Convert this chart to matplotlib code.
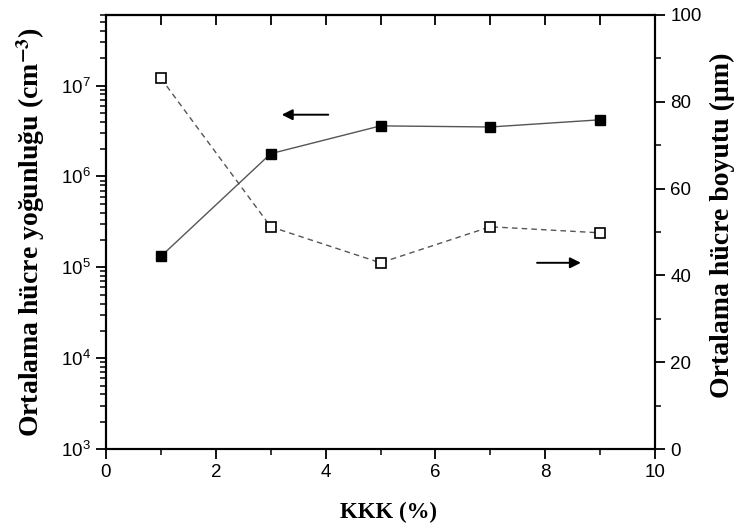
import matplotlib.pyplot as plt
from matplotlib.ticker import MultipleLocator, LogLocator, NullFormatter

plt.rcParams['font.family'] = ['Liberation Sans', 'DejaVu Sans']
plt.rcParams['mathtext.fontset'] = 'stix'

# data
kkk = [1, 3, 5, 7, 9]
density = [1.32e5, 1.78e6, 3.6e6, 3.5e6, 4.2e6]   # cm^-3, left axis (log)
cell_size = [85.4, 51.2, 42.9, 51.2, 49.8]        # um, right axis

fig = plt.figure(figsize=(7.36, 5.29), dpi=100)
ax = fig.add_axes([0.144, 0.151, 0.746, 0.821])
ax2 = ax.twinx()

# density curve
ax.plot(kkk, density, '-', color='#555555', lw=1.0,
        marker='s', ms=6.5, mfc='black', mec='black', zorder=3)
ax.set_yscale('log')
ax.set_ylim(1e3, 6e7)
ax.set_xlim(0, 10)

# cell size curve
ax2.plot(kkk, cell_size, '--', color='#555555', lw=1.0, dashes=(4, 3),
         marker='s', ms=6.5, mfc='white', mec='black', mew=1.2, zorder=3)
ax2.set_ylim(0, 100)

# ticks
ax.xaxis.set_major_locator(MultipleLocator(2))
ax.xaxis.set_minor_locator(MultipleLocator(1))
ax.yaxis.set_major_locator(LogLocator(base=10, numticks=10))
ax.yaxis.set_minor_locator(LogLocator(base=10, subs=range(2, 10), numticks=20))
ax.yaxis.set_minor_formatter(NullFormatter())
ax2.yaxis.set_major_locator(MultipleLocator(20))
ax2.yaxis.set_minor_locator(MultipleLocator(10))

ax.tick_params(axis='both', which='major', direction='out', length=7, width=1.3,
               labelsize=13.5, pad=4)
ax.tick_params(axis='both', which='minor', direction='out', length=4, width=1.1)
ax2.tick_params(axis='y', which='major', direction='out', length=7, width=1.3,
                labelsize=13.5, pad=4)
ax2.tick_params(axis='y', which='minor', direction='out', length=4, width=1.1)

top = ax.secondary_xaxis('top')
top.xaxis.set_major_locator(MultipleLocator(1))
top.tick_params(direction='in', length=7, width=1.3, labeltop=False)

for a in (ax, ax2):
    for s in a.spines.values():
        s.set_linewidth(1.5)
top.spines['top'].set_linewidth(1.5)

# labels
serif = ['Liberation Serif', 'DejaVu Serif']
ax.set_xlabel('KKK (%)', family=serif, fontweight='bold', fontsize=16.5)
ax.xaxis.set_label_coords(0.515, -0.122)
ax.set_ylabel(r'Ortalama hücre yoğunluğu (cm$^{\mathbf{-3}}$)',
              family=serif, fontweight='bold', fontsize=20)
ax.yaxis.set_label_coords(-0.108, 0.5)
ax2.set_ylabel('Ortalama hücre boyutu (µm)', family=serif, fontweight='bold',
               fontsize=20)
ax2.yaxis.set_label_coords(1.10, 0.515)

# arrows marking the axis for each curve
arrow = dict(arrowstyle='-|>', color='black', lw=1.4, mutation_scale=16)
ax2.annotate('', xy=(3.15, 77), xytext=(4.1, 77), arrowprops=arrow)
ax2.annotate('', xy=(8.7, 42.9), xytext=(7.8, 42.9), arrowprops=arrow)

fig.savefig('out.png', dpi=100)
